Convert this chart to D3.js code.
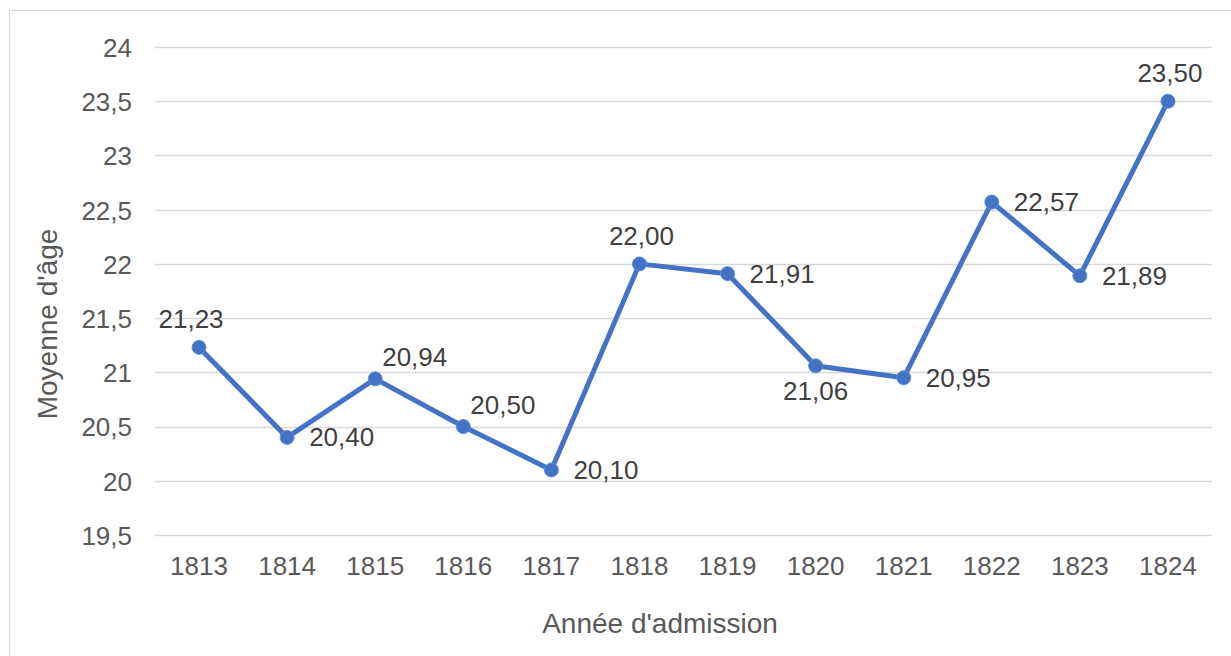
<!DOCTYPE html>
<html>
<head>
<meta charset="utf-8">
<script src="https://cdn.jsdelivr.net/npm/d3@7"></script>
<style>
  body { margin: 0; background: #fff; }
  svg { display: block; font-family: "Liberation Sans", Arial, sans-serif; }
</style>
</head>
<body>
<div id="chart"></div>
<script>
// chart data
var years = ["1813", "1814", "1815", "1816", "1817", "1818", "1819", "1820", "1821", "1822", "1823", "1824"];
var meanAge = [21.23, 20.40, 20.94, 20.50, 20.10, 22.00, 21.91, 21.06, 20.95, 22.57, 21.89, 23.50];
var yTicks = [19.5, 20, 20.5, 21, 21.5, 22, 22.5, 23, 23.5, 24];
// where each data label sits relative to its point
var labelPlace = ["aboveLeft", "right", "aboveRight", "aboveRight", "right", "above", "right", "below", "right", "right", "right", "above"];

var svgWidth = 1231;
var svgHeight = 656;

var margin = { top: 47, right: 19, bottom: 121, left: 155 };
var width = svgWidth - margin.left - margin.right;
var height = svgHeight - margin.top - margin.bottom;

var svg = d3.select("#chart").append("svg")
  .attr("width", svgWidth)
  .attr("height", svgHeight);

// outer frame
svg.append("rect")
  .attr("x", 9.5)
  .attr("y", 10.5)
  .attr("width", 1300)
  .attr("height", 700)
  .attr("fill", "none")
  .attr("stroke", "#d9d9d9")
  .attr("stroke-width", 1);

var chartGroup = svg.append("g")
  .attr("transform", `translate(${margin.left}, ${margin.top})`);

var xScale = d3.scaleBand()
  .domain(years)
  .range([0, width])
  .padding(0);

var yScale = d3.scaleLinear()
  .domain([19.5, 24])
  .range([height, 0]);

var fmt = function(v) { return d3.format(".2f")(v).replace(".", ","); };
var tickFmt = function(v) { return String(v).replace(".", ","); };

// gridlines
chartGroup.selectAll(".grid")
  .data(yTicks)
  .enter()
  .append("line")
  .attr("x1", 0)
  .attr("x2", width)
  .attr("y1", d => Math.round(yScale(d)) + 0.5)
  .attr("y2", d => Math.round(yScale(d)) + 0.5)
  .attr("stroke", "#d9d9d9")
  .attr("stroke-width", 1.3);

// y axis labels
var leftAxis = d3.axisLeft(yScale)
  .tickValues(yTicks)
  .tickFormat(tickFmt)
  .tickSize(0)
  .tickPadding(23);

var yAxis = chartGroup.append("g").call(leftAxis);
yAxis.select(".domain").remove();
yAxis.selectAll("text")
  .attr("fill", "#595959")
  .style("font-size", "26px")
  .attr("dy", "0.36em");

// x axis labels
var bottomAxis = d3.axisBottom(xScale)
  .tickSize(0)
  .tickPadding(22);

var xAxis = chartGroup.append("g")
  .attr("transform", `translate(0, ${height})`)
  .call(bottomAxis);
xAxis.select(".domain").remove();
xAxis.selectAll("text")
  .attr("fill", "#595959")
  .style("font-size", "26px");

var cx = d => xScale(d) + xScale.bandwidth() / 2;

// line
var line = d3.line()
  .x((d, i) => cx(years[i]))
  .y(d => yScale(d));

chartGroup.append("path")
  .datum(meanAge)
  .attr("d", line)
  .attr("fill", "none")
  .attr("stroke", "#4472c4")
  .attr("stroke-width", 5)
  .attr("stroke-linejoin", "round");

// markers
chartGroup.selectAll("circle")
  .data(meanAge)
  .enter()
  .append("circle")
  .attr("cx", (d, i) => cx(years[i]))
  .attr("cy", d => yScale(d))
  .attr("r", 7)
  .attr("fill", "#4472c4")
  .attr("stroke", "#5b8fdb")
  .attr("stroke-width", 1);

// data labels
var place = {
  above: { anchor: "middle", dx: 2, dy: -19 },
  aboveLeft: { anchor: "middle", dx: -8, dy: -19 },
  right: { anchor: "start", dx: 22, dy: 9 },
  aboveRight: { anchor: "start", dx: 7, dy: -13 },
  below: { anchor: "middle", dx: 0, dy: 34 }
};

chartGroup.selectAll(".dlabel")
  .data(meanAge)
  .enter()
  .append("text")
  .attr("class", "dlabel")
  .attr("x", (d, i) => cx(years[i]) + place[labelPlace[i]].dx)
  .attr("y", d => yScale(d))
  .attr("dy", (d, i) => place[labelPlace[i]].dy)
  .attr("text-anchor", (d, i) => place[labelPlace[i]].anchor)
  .attr("fill", "#404040")
  .style("font-size", "26px")
  .text(d => fmt(d));

// axis titles
svg.append("text")
  .attr("x", 660)
  .attr("y", 633)
  .attr("text-anchor", "middle")
  .attr("fill", "#595959")
  .style("font-size", "28px")
  .text("Année d'admission");

svg.append("text")
  .attr("transform", `translate(57, 324) rotate(-90)`)
  .attr("text-anchor", "middle")
  .attr("fill", "#595959")
  .style("font-size", "28px")
  .text("Moyenne d'âge");
</script>
</body>
</html>
